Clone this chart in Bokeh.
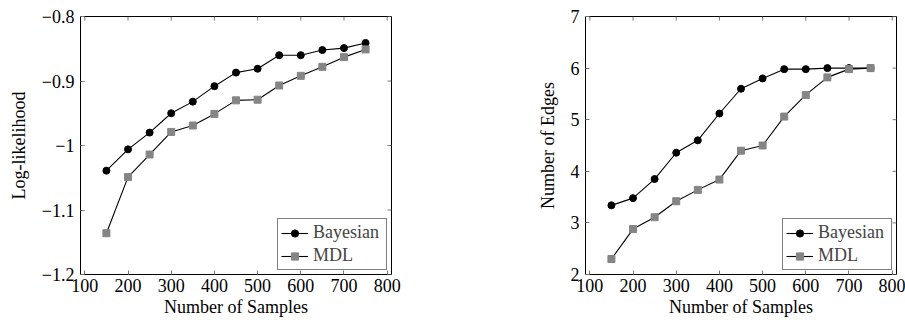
import math
from bokeh.plotting import figure
from bokeh.models import FixedTicker, Range1d, Legend, LegendItem
from bokeh.layouts import row
from bokeh.embed import file_html
from bokeh.resources import INLINE

samples = [150, 200, 250, 300, 350, 400, 450, 500, 550, 600, 650, 700, 750]

ll_bayesian = [-1.039, -1.006, -0.980, -0.950, -0.932, -0.908, -0.887, -0.881,
               -0.860, -0.860, -0.852, -0.849, -0.841]
ll_mdl = [-1.136, -1.049, -1.014, -0.979, -0.969, -0.951, -0.930, -0.929,
          -0.907, -0.892, -0.878, -0.863, -0.851]

edges_bayesian = [3.34, 3.48, 3.85, 4.36, 4.60, 5.12, 5.60, 5.80,
                  5.98, 5.98, 6.00, 6.00, 6.00]
edges_mdl = [2.30, 2.88, 3.11, 3.42, 3.64, 3.84, 4.40, 4.50,
             5.06, 5.48, 5.82, 5.98, 6.00]

x_ticks = [100, 200, 300, 400, 500, 600, 700, 800]
ll_ticks = [-1.2, -1.1, -1.0, -0.9, -0.8]
ll_tick_labels = ["\u22121.2", "\u22121.1", "\u22121", "\u22120.9", "\u22120.8"]
edge_ticks = [2, 3, 4, 5, 6, 7]
edge_tick_labels = ["2", "3", "4", "5", "6", "7"]

FONT = "Liberation Serif"
TICK_FS = "18px"
LABEL_FS = "18px"
LEGEND_FS = "18px"
TICK_COLOR = "#777777"
X0, X1 = 90, 810


def style_axis(ax):
    ax.axis_line_color = None
    ax.major_tick_in = 4
    ax.major_tick_out = 0
    ax.minor_tick_in = 0
    ax.minor_tick_out = 0
    ax.major_tick_line_color = TICK_COLOR
    ax.major_tick_line_width = 1
    ax.major_label_text_font = FONT
    ax.major_label_text_color = "black"
    ax.major_label_text_font_size = TICK_FS
    ax.axis_label_text_font = FONT
    ax.axis_label_text_font_size = LABEL_FS
    ax.axis_label_text_font_style = "normal"
    ax.axis_label_text_color = "black"


def make_plot(yb, ym, yticks, ylabels, y0, y1, ylabel, w, bl, br, ylabel_standoff):
    p = figure(width=w, height=320, frame_width=311, frame_height=258,
               min_border_left=bl, min_border_right=br, min_border_top=16,
               min_border_bottom=46, output_backend="svg", toolbar_location=None,
               x_range=Range1d(X0, X1), y_range=Range1d(y0, y1))
    p.xgrid.visible = False
    p.ygrid.visible = False
    p.outline_line_color = "black"
    p.outline_line_width = 1
    p.background_fill_color = "white"
    p.border_fill_color = "white"

    xax = p.xaxis[0]
    yax = p.yaxis[0]
    xax.ticker = FixedTicker(ticks=x_ticks)
    yax.ticker = FixedTicker(ticks=yticks)
    yax.major_label_overrides = {t: l for t, l in zip(yticks, ylabels)}
    style_axis(xax)
    style_axis(yax)
    xax.axis_label = "Number of Samples"
    yax.axis_label = ylabel
    xax.major_label_standoff = 4
    yax.major_label_standoff = 6
    xax.axis_label_standoff = 2
    yax.axis_label_standoff = ylabel_standoff

    # mirrored inward ticks on top and right edges (pgfplots style)
    p.ray(x=x_ticks, y=[y1] * len(x_ticks), length=4, length_units="screen",
          angle=-math.pi / 2, line_color=TICK_COLOR, line_width=1)
    p.ray(x=[X1] * len(yticks), y=yticks, length=4, length_units="screen",
          angle=math.pi, line_color=TICK_COLOR, line_width=1)

    lb = p.line(samples, yb, line_color="black", line_width=1.1)
    sb = p.scatter(samples, yb, marker="circle", size=7,
                   fill_color="black", line_color="black")
    lm = p.line(samples, ym, line_color="black", line_width=1.1)
    sm = p.scatter(samples, ym, marker="square", size=7,
                   fill_color="#858585", line_color="#858585")

    legend = Legend(items=[LegendItem(label="Bayesian", renderers=[lb, sb]),
                           LegendItem(label="MDL", renderers=[lm, sm])],
                    location="bottom_right", margin=4, padding=3, spacing=2,
                    glyph_width=27, glyph_height=18, label_height=18,
                    label_width=70, label_standoff=5,
                    label_text_font=FONT, label_text_font_size=LEGEND_FS,
                    border_line_color="black", border_line_width=1,
                    background_fill_color="white", background_fill_alpha=1)
    p.add_layout(legend, "center")
    return p


p1 = make_plot(ll_bayesian, ll_mdl, ll_ticks, ll_tick_labels, -1.2, -0.8,
               "Log-likelihood", 452, 80, 61, 10)
p2 = make_plot(edges_bayesian, edges_mdl, edge_ticks, edge_tick_labels, 2, 7,
               "Number of Edges", 453, 133, 9, 10)

layout = row(p1, p2)
open("out.html", "w").write(file_html(layout, INLINE))
